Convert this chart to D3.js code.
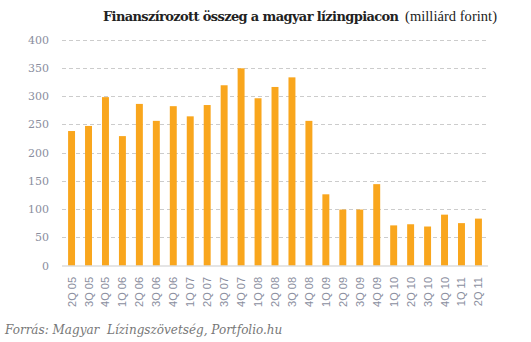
<!DOCTYPE html>
<html><head><meta charset="utf-8">
<script src="https://cdn.jsdelivr.net/npm/d3@7"></script>
<style>body{margin:0;background:#fff}</style>
</head><body>
<svg id="c" width="531" height="342"></svg>
<script>
const categories = ["2Q 05","3Q 05","4Q 05","1Q 06","2Q 06","3Q 06","4Q 06","1Q 07","2Q 07","3Q 07","4Q 07","1Q 08","2Q 08","3Q 08","4Q 08","1Q 09","2Q 09","3Q 09","4Q 09","1Q 10","2Q 10","3Q 10","4Q 10","1Q 11","2Q 11"];
const values = [238,247,298,229,286,256,282,264,284,319,349,296,316,333,256,126,99,99,144,71,73,69,90,75,83];
const yTicks = [0,50,100,150,200,250,300,350,400];
const titleBold = "Finanszírozott összeg a magyar lízingpiacon";
const titleNormal = "(milliárd forint)";
const source = "Forrás: Magyar  Lízingszövetség, Portfolio.hu";

const svg = d3.select("#c");
const x = d3.scaleBand().domain(categories).range([63,487]).paddingInner(0.59).paddingOuter(0.3);
const y = d3.scaleLinear().domain([0,400]).range([265.5,39.5]);

// gridlines
svg.append("g").selectAll("line").data(yTicks.filter(d=>d>0)).join("line")
  .attr("x1",62).attr("x2",487).attr("y1",d=>Math.round(y(d))+0.5).attr("y2",d=>Math.round(y(d))+0.5)
  .attr("stroke","#cccccc").attr("stroke-width",1).attr("stroke-dasharray","4,3");

// y labels
svg.append("g").selectAll("text").data(yTicks).join("text")
  .attr("x",49).attr("y",d=>y(d)+4).attr("text-anchor","end")
  .attr("font-family","'DejaVu Serif', serif").attr("font-size",11).attr("fill","#8a8e9e")
  .text(d=>d);

// bars
svg.append("g").selectAll("rect").data(values).join("rect")
  .attr("x",(d,i)=>x(categories[i])).attr("width",x.bandwidth())
  .attr("y",d=>y(d)).attr("height",d=>y(0)-y(d)).attr("fill","#F9A61D");

// baseline
svg.append("line").attr("x1",62).attr("x2",488).attr("y1",266).attr("y2",266)
  .attr("stroke","#cccccc").attr("stroke-width",1.2);

// x labels
svg.append("g").selectAll("text").data(categories).join("text")
  .attr("transform",d=>`translate(${x(d)+x.bandwidth()/2+4},277) rotate(-90)`)
  .attr("text-anchor","end")
  .attr("font-family","'Liberation Sans', Arial, sans-serif").attr("font-size",11).attr("fill","#8a8e9e")
  .text(d=>d);

// title
svg.append("text").attr("x",103).attr("y",21)
  .attr("font-family","'DejaVu Serif', serif").attr("font-size",13).attr("font-weight","bold")
  .attr("textLength",296).attr("lengthAdjust","spacing").attr("fill","#222").text(titleBold);
svg.append("text").attr("x",405).attr("y",21)
  .attr("font-family","'Liberation Serif', serif").attr("font-size",14.5)
  .attr("textLength",92).attr("lengthAdjust","spacing").attr("fill","#222").text(titleNormal);

// source
svg.append("text").attr("x",5).attr("y",334).style("white-space","pre")
  .attr("font-family","'DejaVu Serif', serif").attr("font-style","italic").attr("font-size",12).attr("fill","#777")
  .text(source);
</script>
</body></html>
